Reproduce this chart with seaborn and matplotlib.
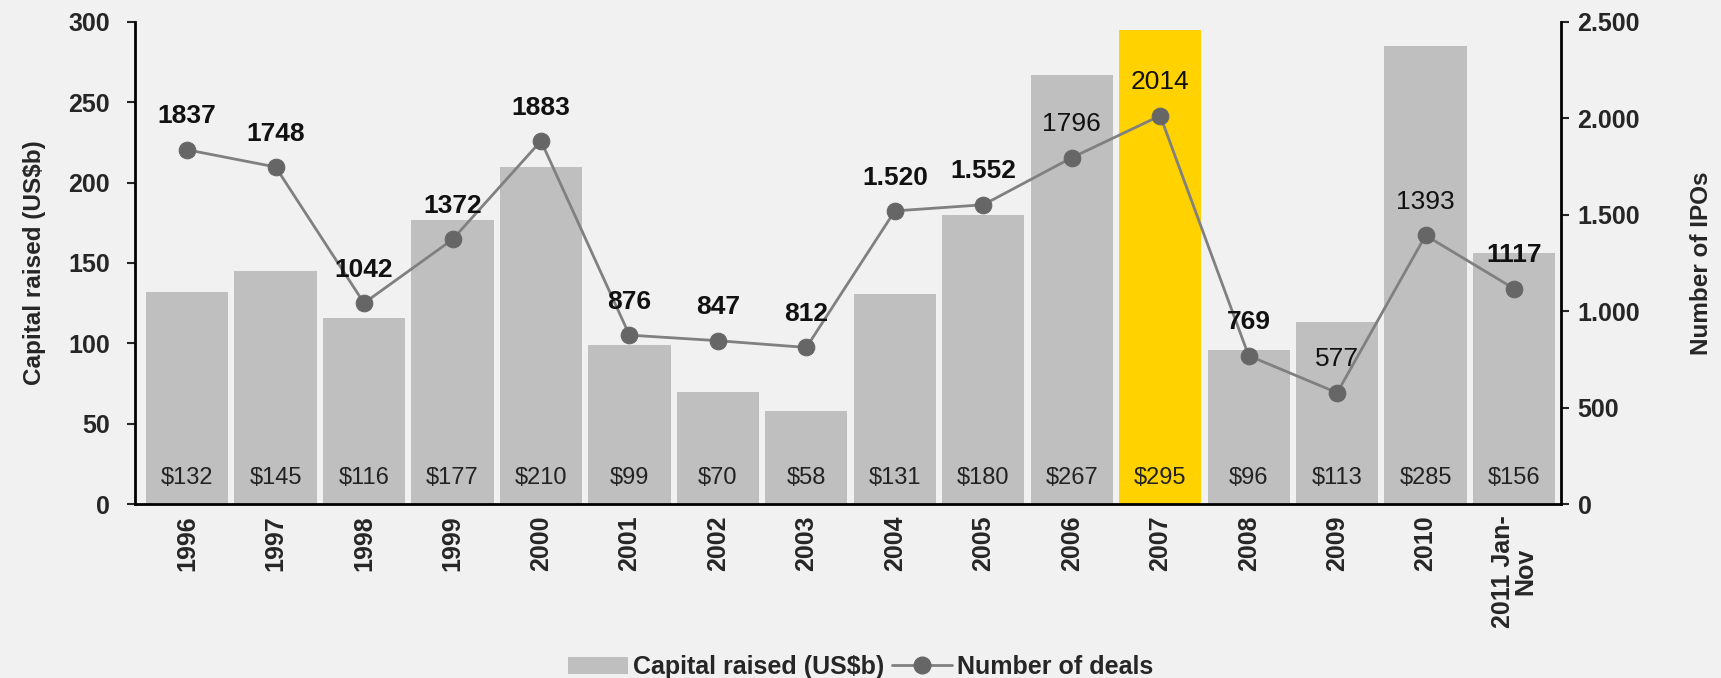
import numpy as np
import matplotlib
matplotlib.use('Agg')
import matplotlib.pyplot as plt
import seaborn as sns
from matplotlib.patches import Patch
from matplotlib.lines import Line2D

# data
years = ['1996', '1997', '1998', '1999', '2000', '2001', '2002', '2003', '2004',
         '2005', '2006', '2007', '2008', '2009', '2010', '2011 Jan-\nNov']
capital = [132, 145, 116, 177, 210, 99, 70, 58, 131, 180, 267, 295, 96, 113, 285, 156]
deals = [1837, 1748, 1042, 1372, 1883, 876, 847, 812, 1520, 1552, 1796, 2014, 769, 577, 1393, 1117]
deal_labels = ['1837', '1748', '1042', '1372', '1883', '876', '847', '812', '1.520',
               '1.552', '1796', '2014', '769', '577', '1393', '1117']
deal_bold = [True, True, True, True, True, True, True, True, True,
             True, False, False, True, False, False, True]
highlight = '2007'

BG = '#F1F1F1'
GREY_BAR = '#BFBFBF'
YELLOW = '#FFD200'
LINE = '#808080'
MARK = '#666666'

sns.set_style('white')
plt.rcParams['font.family'] = ['Liberation Sans', 'DejaVu Sans']

fig = plt.figure(figsize=(17.21, 6.78), dpi=100, facecolor=BG)
ax = fig.add_axes([0.0784, 0.2566, 0.9070 - 0.0784, 0.9676 - 0.2566])
ax.set_facecolor(BG)

pos = np.arange(len(years))
colors = [YELLOW if y == highlight else GREY_BAR for y in years]
sns.barplot(x=pos, y=capital, hue=pos, palette=colors, legend=False,
            width=0.93, saturation=1, linewidth=0, ax=ax)

for i, v in enumerate(capital):
    ax.annotate(f'${v}', xy=(i, 0), xytext=(0, 19), textcoords='offset points',
                ha='center', va='center', fontsize=17, color='#222222')

ax.set_xlim(-0.59, 15.53)
ax.set_ylim(0, 300)
ax.set_yticks(np.arange(0, 301, 50))
ax.set_xticks(pos)
ax.set_xticklabels(years, rotation=90, fontweight='bold', fontsize=18, linespacing=0.95)
ax.tick_params(axis='y', labelsize=18, length=6, width=1.5, direction='out', left=True, pad=12)
ax.tick_params(axis='x', length=0, pad=8)
for t in ax.get_yticklabels():
    t.set_fontweight('bold')
ax.set_ylabel('Capital raised (US$b)', fontsize=17.5, fontweight='bold', labelpad=16)
ax.set_xlabel('')

ax2 = ax.twinx()
sns.lineplot(x=pos, y=deals, ax=ax2, color=LINE, linewidth=2, marker='o',
             markersize=12, markerfacecolor=MARK, markeredgecolor=MARK)
ax2.set_ylim(0, 2500)
ax2.set_yticks(np.arange(0, 2501, 500))
ax2.set_yticklabels([f'{v:,}'.replace(',', '.') for v in range(0, 2501, 500)],
                    fontweight='bold', fontsize=18)
ax2.tick_params(axis='y', length=6, width=1.5, direction='out', right=True, pad=6)
ax2.set_ylabel('Number of IPOs', fontsize=17.5, fontweight='bold', labelpad=36)

for i, (v, lab, b) in enumerate(zip(deals, deal_labels, deal_bold)):
    ax2.annotate(lab, xy=(i, v), xytext=(0, 24), textcoords='offset points',
                 ha='center', va='center', fontsize=19,
                 fontweight='bold' if b else 'normal', color='#111111')

for a in (ax, ax2):
    a.spines['top'].set_visible(False)
    for s in ('left', 'right', 'bottom'):
        a.spines[s].set_linewidth(2)
        a.spines[s].set_color('black')
ax.spines['right'].set_visible(False)
ax2.spines['left'].set_visible(False)
ax2.spines['bottom'].set_visible(False)

handles = [Patch(facecolor=GREY_BAR, edgecolor='none', label='Capital raised (US$b)'),
           Line2D([0], [0], color=LINE, linewidth=2, marker='o', markersize=12,
                  markerfacecolor=MARK, markeredgecolor=MARK, label='Number of deals')]
leg = fig.legend(handles=handles, loc='lower center', bbox_to_anchor=(0.5, -0.035),
                 ncol=2, frameon=False, prop={'weight': 'bold', 'size': 18},
                 handlelength=2.4, columnspacing=0.3, handletextpad=0.2)

fig.savefig('out.png', dpi=100, facecolor=BG)
